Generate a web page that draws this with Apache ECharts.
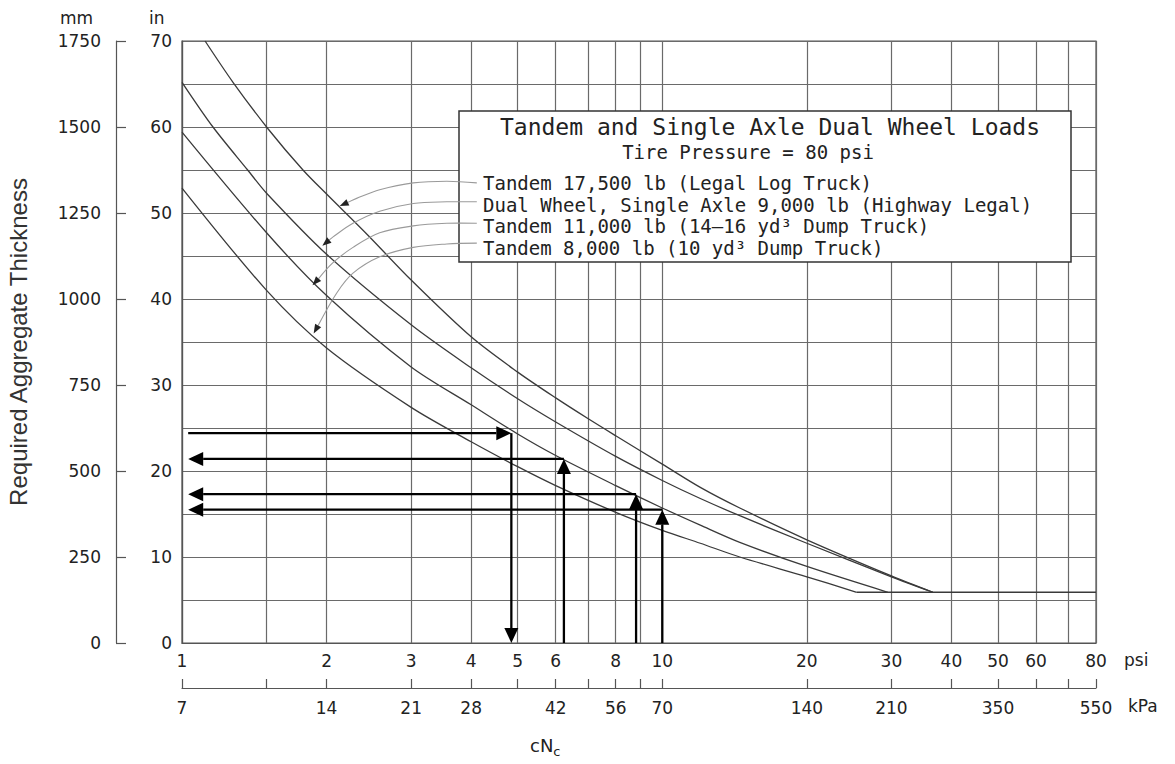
<!DOCTYPE html>
<html>
<head>
<meta charset="utf-8">
<script src="https://cdn.jsdelivr.net/npm/echarts@6/dist/echarts.min.js"></script>
<style>
html,body{margin:0;padding:0;background:#fff;}
#chart{width:1175px;height:764px;}
</style>
</head>
<body>
<div id="chart"></div>
<script>
// ---------------- data ----------------
// x axis: cNc in psi (log scale), kPa shown on a second scale
const psiGrid   = [1, 1.5, 2, 3, 4, 5, 6, 7, 8, 9, 10, 20, 30, 40, 50, 60, 70, 80];
const psiLabels = [1, 2, 3, 4, 5, 6, 8, 10, 20, 30, 40, 50, 60, 80];
const kpaAtPsi  = [1, 2, 3, 4, 6, 8, 10, 20, 30, 50, 80];
const kpaLabels = ['7', '14', '21', '28', '42', '56', '70', '140', '210', '350', '550'];

// curves (psi, inches)
const curveNames = [
  'Tandem 17,500 lb (Legal Log Truck)',
  'Dual Wheel, Single Axle 9,000 lb (Highway Legal)',
  'Tandem 11,000 lb (14\u201316 yd\u00b3 Dump Truck)',
  'Tandem 8,000 lb (10 yd\u00b3 Dump Truck)'
];
const tandem17500Psi = [1.117, 1.277, 1.51, 1.786, 2, 2.43, 3, 4, 5, 6, 7, 8, 10, 12, 14.5, 20, 30, 36.6];
const tandem17500In  = [70, 65.2, 59.8, 55.0, 52.2, 47.5, 42.2, 35.6, 31.5, 28.5, 26.1, 24.1, 20.8, 18.1, 15.7, 12.0, 7.8, 5.9];
const single9000Psi  = [1, 1.16, 1.37, 1.5, 2, 3, 4, 5, 6, 8, 10, 12, 14.5, 20, 30, 36.6];
const single9000In   = [65.2, 60.0, 55.0, 52.3, 45.2, 37.0, 32.0, 28.4, 25.7, 21.7, 18.9, 16.8, 14.8, 11.6, 7.7, 5.9];
const tandem11000Psi = [1, 1.5, 2, 3, 4, 5, 6, 8, 10, 12, 14.5, 20, 29.5];
const tandem11000In  = [59.4, 47.7, 40.4, 32.1, 27.7, 24.3, 21.8, 18.3, 15.7, 13.7, 11.7, 8.9, 5.9];
const tandem8000Psi  = [1, 1.5, 2, 3, 4, 5, 6, 8, 10, 12, 14.5, 20, 25.4];
const tandem8000In   = [52.9, 41.0, 34.3, 27.4, 23.4, 20.5, 18.3, 15.2, 13.1, 11.6, 10.0, 7.7, 5.9];
const minimumPsi = [25.4, 80];
const minimumIn  = [5.9, 5.9];

// black read-off arrows (curve point, and the axis end on the left)
const arrowPsi = [4.85, 6.24, 8.82, 10.0];
const arrowIn  = [24.4, 21.4, 17.3, 15.5];
const arrowAxisPsi = 1.03;

// leader lines from legend entries to curves
const leaderPsi = [
  [4.11, 3.56, 3.03, 2.58, 2.31, 2.13],
  [4.11, 3.56, 3.03, 2.58, 2.27, 2.06, 1.96],
  [4.11, 3.56, 3.03, 2.58, 2.27, 2.06, 1.87],
  [4.11, 3.56, 3.03, 2.58, 2.27, 2.10, 1.88]
];
const leaderIn = [
  [53.5, 53.7, 53.5, 52.7, 51.7, 50.8],
  [51.3, 51.3, 51.1, 50.2, 48.8, 47.2, 46.2],
  [48.8, 48.8, 48.5, 47.7, 46.0, 44.2, 41.6],
  [46.5, 46.4, 46.0, 44.9, 43.0, 40.7, 36.0]
];

// --------------- build ---------------
const zip = (xs, ys) => xs.map((x, i) => [x, ys[i]]);
const curves = [
  zip(tandem17500Psi, tandem17500In),
  zip(single9000Psi, single9000In),
  zip(tandem11000Psi, tandem11000In),
  zip(tandem8000Psi, tandem8000In)
];

const arrowSegs = [];
arrowPsi.forEach((p, i) => {
  if (i === 0) {
    arrowSegs.push([arrowAxisPsi, arrowIn[i], p, arrowIn[i]]);
    arrowSegs.push([p, arrowIn[i], p, 0]);
  } else {
    arrowSegs.push([p, 0, p, arrowIn[i]]);
    arrowSegs.push([p, arrowIn[i], arrowAxisPsi, arrowIn[i]]);
  }
});

const FONT = 'DejaVu Sans';
const GRID = '#6a6a6a';
const CURVE = '#3a3a3a';

function arrowHead(p1, ux, uy, hl, hw) {
  const bx = p1[0] - ux * hl, by = p1[1] - uy * hl;
  return { base: [bx, by], pts: [[p1[0], p1[1]], [bx - uy * hw, by + ux * hw], [bx + uy * hw, by - ux * hw]] };
}

function renderArrow(params, api) {
  const p0 = api.coord([api.value(0), api.value(1)]);
  const p1 = api.coord([api.value(2), api.value(3)]);
  const dx = p1[0] - p0[0], dy = p1[1] - p0[1];
  const len = Math.hypot(dx, dy) || 1;
  const h = arrowHead(p1, dx / len, dy / len, 15, 7);
  return {
    type: 'group',
    children: [
      { type: 'line', shape: { x1: p0[0], y1: p0[1], x2: h.base[0], y2: h.base[1] }, style: { stroke: '#000', lineWidth: 2.3 } },
      { type: 'polygon', shape: { points: h.pts }, style: { fill: '#000' } }
    ]
  };
}

function renderLeader(params, api) {
  const k = api.value(2);
  const pts = leaderPsi[k].map((p, j) => api.coord([p, leaderIn[k][j]]));
  const n = pts.length;
  const a = pts[n - 2], b = pts[n - 1];
  const dx = b[0] - a[0], dy = b[1] - a[1];
  const len = Math.hypot(dx, dy) || 1;
  const h = arrowHead(b, dx / len, dy / len, 9, 3.5);
  const linePts = pts.slice(0, n - 1).concat([h.base]);
  return {
    type: 'group',
    children: [
      { type: 'polyline', shape: { points: linePts, smooth: 0.35 }, style: { stroke: '#9a9a9a', lineWidth: 1.1, fill: null } },
      { type: 'polygon', shape: { points: h.pts }, style: { fill: '#222' } }
    ]
  };
}

const series = curves.map((d, i) => ({
  name: curveNames[i],
  type: 'line',
  data: d,
  smooth: 0.3,
  showSymbol: false,
  symbol: 'none',
  silent: true,
  lineStyle: { color: CURVE, width: 1.3 },
  z: 2
}));
series.push({
  name: 'Minimum thickness',
  type: 'line',
  data: zip(minimumPsi, minimumIn),
  showSymbol: false,
  symbol: 'none',
  lineStyle: { color: CURVE, width: 1.3 },
  z: 2
});
series.push({
  name: 'Leaders',
  type: 'custom',
  coordinateSystem: 'cartesian2d',
  data: leaderPsi.map((p, k) => [p[0], leaderIn[k][0], k]),
  encode: { x: 0, y: 1 },
  renderItem: renderLeader,
  z: 4
});
series.push({
  name: 'Read-off arrows',
  type: 'custom',
  coordinateSystem: 'cartesian2d',
  data: arrowSegs,
  encode: { x: [0, 2], y: [1, 3] },
  renderItem: renderArrow,
  z: 5
});

const fmtPsi = v => String(Math.round(v * 10) / 10);
const fmtKpa = v => {
  const i = kpaAtPsi.findIndex(p => Math.abs(p - v) < 1e-6 * p + 1e-6);
  return i >= 0 ? kpaLabels[i] : '';
};

const option = {
  animation: false,
  backgroundColor: '#fff',
  grid: { left: 182, right: 79, top: 41, bottom: 121, outerBoundsMode: 'none', containLabel: false, show: true, borderColor: '#555', borderWidth: 1.2, backgroundColor: 'transparent' },
  xAxis: [
    {
      type: 'log', logBase: 10, min: 1, max: 80, position: 'bottom', gridIndex: 0,
      axisLine: { show: true, onZero: false, lineStyle: { color: '#555', width: 1.2 } },
      axisTick: { show: false, customValues: psiGrid },
      axisLabel: { customValues: psiLabels, formatter: fmtPsi, margin: 9, color: '#222', fontFamily: FONT, fontSize: 17 },
      splitLine: { show: true, lineStyle: { color: GRID, width: 1.2 } },
      minorTick: { show: false }, minorSplitLine: { show: false }
    },
    {
      type: 'log', logBase: 10, min: 1, max: 80, position: 'bottom', offset: 45, gridIndex: 0,
      axisLine: { show: true, onZero: false, lineStyle: { color: '#555', width: 1.2 } },
      axisTick: { show: true, inside: true, length: 9, customValues: psiGrid, lineStyle: { color: '#555', width: 1.2 } },
      axisLabel: { customValues: kpaAtPsi, formatter: fmtKpa, margin: 11, color: '#222', fontFamily: FONT, fontSize: 17 },
      splitLine: { show: false }
    }
  ],
  yAxis: [
    {
      type: 'value', min: 0, max: 70, interval: 5, position: 'left', gridIndex: 0,
      axisLine: { show: true, onZero: false, lineStyle: { color: '#555', width: 1.2 } },
      axisTick: { show: false },
      axisLabel: { formatter: v => (v % 10 === 0 ? String(v) : ''), margin: 10, color: '#222', fontFamily: FONT, fontSize: 17 },
      splitLine: { show: true, lineStyle: { color: GRID, width: 1.2 } }
    },
    {
      type: 'value', min: 0, max: 1750, interval: 250, position: 'left', offset: 66, gridIndex: 0,
      name: 'Required Aggregate Thickness', nameLocation: 'middle', nameGap: 86, nameRotate: 90,
      nameTextStyle: { fontFamily: 'Liberation Sans', fontSize: 24, color: '#333' },
      axisLine: { show: true, onZero: false, lineStyle: { color: '#555', width: 1.2 } },
      axisTick: { show: true, inside: true, length: 10, lineStyle: { color: '#555', width: 1.2 } },
      axisLabel: { formatter: v => String(v), margin: 15, color: '#222', fontFamily: FONT, fontSize: 17 },
      splitLine: { show: false }
    }
  ],
  graphic: [
    { type: 'text', left: 60, top: 9, style: { text: 'mm', font: '17px "DejaVu Sans"', fill: '#222' } },
    { type: 'text', left: 149, top: 9, style: { text: 'in', font: '17px "DejaVu Sans"', fill: '#222' } },
    { type: 'text', left: 1124, top: 651, style: { text: 'psi', font: '17px "DejaVu Sans"', fill: '#222' } },
    { type: 'text', left: 1128, top: 697, style: { text: 'kPa', font: '17px "DejaVu Sans"', fill: '#222' } },
    {
      type: 'text', left: 530, top: 736,
      style: {
        text: '{a|cN}{b|c}',
        rich: {
          a: { fontFamily: FONT, fontSize: 18, fill: '#222', verticalAlign: 'top' },
          b: { fontFamily: FONT, fontSize: 13, fill: '#222', verticalAlign: 'bottom', padding: [9, 0, 0, 0] }
        }
      }
    },
    {
      type: 'group', z: 1,
      children: [
        { type: 'rect', shape: { x: 459, y: 111, width: 612, height: 151 }, style: { fill: '#fff', stroke: '#333', lineWidth: 1.5 }, z: 1 },
        { type: 'text', x: 770, y: 127, style: { text: 'Tandem and Single Axle Dual Wheel Loads', font: '23px "DejaVu Sans Mono"', fill: '#222', align: 'center', verticalAlign: 'middle' }, z: 1 },
        { type: 'text', x: 748, y: 152, style: { text: 'Tire Pressure = 80 psi', font: '19px "DejaVu Sans Mono"', fill: '#222', align: 'center', verticalAlign: 'middle' }, z: 1 },
        { type: 'text', x: 483, y: 183, style: { text: curveNames[0], font: '19px "DejaVu Sans Mono"', fill: '#222', align: 'left', verticalAlign: 'middle' }, z: 1 },
        { type: 'text', x: 483, y: 204.5, style: { text: curveNames[1], font: '19px "DejaVu Sans Mono"', fill: '#222', align: 'left', verticalAlign: 'middle' }, z: 1 },
        { type: 'text', x: 483, y: 226, style: { text: curveNames[2], font: '19px "DejaVu Sans Mono"', fill: '#222', align: 'left', verticalAlign: 'middle' }, z: 1 },
        { type: 'text', x: 483, y: 247.5, style: { text: curveNames[3], font: '19px "DejaVu Sans Mono"', fill: '#222', align: 'left', verticalAlign: 'middle' }, z: 1 }
      ]
    }
  ],
  series: series
};

const chart = echarts.init(document.getElementById('chart'), null, { renderer: 'svg' });
chart.setOption(option);
</script>
</body>
</html>
